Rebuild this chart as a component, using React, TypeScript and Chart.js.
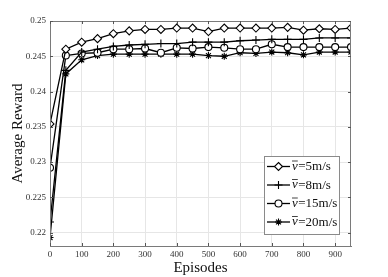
import React, { useEffect, useRef } from "react";
import { Chart, registerables } from "chart.js";

Chart.register(...registerables);

const episodes = [0, 50, 100, 150, 200, 250, 300, 350, 400, 450, 500, 550, 600, 650, 700, 750, 800, 850, 900, 950];
const v5 = [0.2354, 0.2460, 0.2470, 0.2475, 0.2482, 0.2486, 0.2488, 0.2488, 0.2490, 0.2490, 0.2485, 0.2490, 0.2490, 0.2490, 0.2490, 0.2491, 0.2487, 0.2489, 0.2488, 0.2490];
const v8 = [0.2215, 0.2430, 0.2456, 0.2460, 0.2464, 0.2466, 0.2467, 0.2468, 0.2468, 0.2470, 0.2470, 0.2470, 0.2472, 0.2473, 0.2474, 0.2474, 0.2474, 0.2476, 0.2476, 0.2476];
const v15 = [0.2292, 0.2451, 0.2454, 0.2455, 0.2460, 0.2460, 0.2461, 0.2455, 0.2462, 0.2461, 0.2463, 0.2462, 0.2460, 0.2460, 0.2467, 0.2463, 0.2463, 0.2463, 0.2463, 0.2463];
const v20 = [0.2193, 0.2425, 0.2445, 0.2451, 0.2453, 0.2453, 0.2453, 0.2453, 0.2453, 0.2453, 0.2451, 0.2450, 0.2455, 0.2454, 0.2456, 0.2455, 0.2452, 0.2456, 0.2456, 0.2456];
const seriesNames = ["5m/s", "8m/s", "15m/s", "20m/s"];
const xTicks = [0, 100, 200, 300, 400, 500, 600, 700, 800, 900];
const yTicks = [0.22, 0.225, 0.23, 0.235, 0.24, 0.245, 0.25];
const xTitle = "Episodes";
const yTitle = "Average Reward";

const SERIF = "'Liberation Serif', 'Times New Roman', serif";

function drawMarker(ctx: CanvasRenderingContext2D, style: string, r: number, fill: string, x: number, y: number) {
  ctx.save();
  ctx.strokeStyle = "#000";
  ctx.fillStyle = fill;
  ctx.lineWidth = 1.1;
  ctx.beginPath();
  if (style === "rectRot") {
    ctx.moveTo(x, y - r);
    ctx.lineTo(x + r, y);
    ctx.lineTo(x, y + r);
    ctx.lineTo(x - r, y);
    ctx.closePath();
    ctx.fill();
    ctx.stroke();
  } else if (style === "circle") {
    ctx.arc(x, y, r, 0, Math.PI * 2);
    ctx.fill();
    ctx.stroke();
  } else if (style === "cross") {
    ctx.moveTo(x - r, y);
    ctx.lineTo(x + r, y);
    ctx.moveTo(x, y - r);
    ctx.lineTo(x, y + r);
    ctx.stroke();
  } else {
    for (let k = 0; k < 4; k++) {
      const ang = (k * Math.PI) / 4;
      ctx.moveTo(x - r * Math.cos(ang), y - r * Math.sin(ang));
      ctx.lineTo(x + r * Math.cos(ang), y + r * Math.sin(ang));
    }
    ctx.stroke();
  }
  ctx.restore();
}

const decorPlugin = {
  id: "decor",
  afterDraw(chart: any) {
    const ctx = chart.ctx;
    const a = chart.chartArea;
    const xs = chart.scales.x;
    const ys = chart.scales.y;
    ctx.save();
    // box
    ctx.strokeStyle = "#7a7a7a";
    ctx.lineWidth = 1;
    ctx.strokeRect(a.left + 0.5, a.top + 0.5, a.right - a.left - 1, a.bottom - a.top);
    // inward ticks
    ctx.strokeStyle = "#555";
    ctx.beginPath();
    for (const t of xTicks) {
      const px = Math.round(xs.getPixelForValue(t)) + 0.5;
      ctx.moveTo(px, a.bottom);
      ctx.lineTo(px, a.bottom - 3);
      ctx.moveTo(px, a.top);
      ctx.lineTo(px, a.top + 3);
    }
    for (const t of yTicks) {
      const py = Math.round(ys.getPixelForValue(t)) + 0.5;
      ctx.moveTo(a.left, py);
      ctx.lineTo(a.left + 3, py);
      ctx.moveTo(a.right, py);
      ctx.lineTo(a.right - 3, py);
    }
    ctx.stroke();

    // x tick labels
    ctx.fillStyle = "#333";
    ctx.font = `9px ${SERIF}`;
    ctx.textAlign = "center";
    ctx.textBaseline = "middle";
    for (const t of xTicks) {
      ctx.fillText(String(t), xs.getPixelForValue(t), a.bottom + 8.5);
    }

    // axis titles
    ctx.fillStyle = "#111";
    ctx.font = `15px ${SERIF}`;
    ctx.textAlign = "center";
    ctx.textBaseline = "middle";
    ctx.fillText(xTitle, (a.left + a.right) / 2, 268);
    ctx.save();
    ctx.translate(18, (a.top + a.bottom) / 2);
    ctx.rotate(-Math.PI / 2);
    ctx.fillText(yTitle, 0, 0);
    ctx.restore();

    // legend
    const bx = 264, by = 156, bw = 75, bh = 78;
    ctx.fillStyle = "#fff";
    ctx.fillRect(bx, by, bw, bh);
    ctx.strokeStyle = "#8a8a8a";
    ctx.lineWidth = 1;
    ctx.strokeRect(bx + 0.5, by + 0.5, bw, bh);
    const rows = [166.5, 185, 203.5, 222];
    chart.data.datasets.forEach((ds: any, i: number) => {
      const y = rows[i];
      ctx.strokeStyle = "#000";
      ctx.lineWidth = 1.3;
      ctx.beginPath();
      ctx.moveTo(267, y);
      ctx.lineTo(290, y);
      ctx.stroke();
      drawMarker(ctx, ds.pointStyle, ds.pointRadius, ds.pointBackgroundColor, 278.5, y);
      ctx.fillStyle = "#111";
      ctx.textAlign = "left";
      ctx.textBaseline = "middle";
      ctx.font = `italic 13px ${SERIF}`;
      const vx = 292;
      ctx.fillText("v", vx, y);
      const vw = ctx.measureText("v").width;
      ctx.strokeStyle = "#111";
      ctx.lineWidth = 0.8;
      ctx.beginPath();
      ctx.moveTo(vx, y - 5.5);
      ctx.lineTo(vx + vw, y - 5.5);
      ctx.stroke();
      ctx.font = `13px ${SERIF}`;
      ctx.fillText("=" + seriesNames[i], vx + vw + 0.5, y + 0.5);
    });
    ctx.restore();
  },
};

export default function App() {
  const ref = useRef<HTMLCanvasElement | null>(null);
  useEffect(() => {
    if (!ref.current) return;
    const mk = (vals: number[], style: string, r: number, fill: string, label: string) => ({
      label,
      data: episodes.map((e, i) => ({ x: e, y: vals[i] })),
      borderColor: "#000",
      borderWidth: 1.3,
      pointStyle: style,
      pointRadius: r,
      pointBorderWidth: 1.1,
      pointBorderColor: "#000",
      pointBackgroundColor: fill,
      backgroundColor: fill,
      tension: 0,
      fill: false,
    });
    const chart = new Chart(ref.current, {
      type: "line",
      data: {
        datasets: [
          mk(v5, "rectRot", 4, "#fff", seriesNames[0]),
          mk(v8, "cross", 4, "#fff", seriesNames[1]),
          mk(v15, "circle", 3.5, "#fff", seriesNames[2]),
          mk(v20, "star", 3.5, "#000", seriesNames[3]),
        ] as any,
      },
      options: {
        animation: false,
        responsive: false,
        devicePixelRatio: 1,
        layout: { padding: { top: 21, right: 37, left: 0, bottom: 0 } },
        plugins: { legend: { display: false }, tooltip: { enabled: false } },
        scales: {
          x: {
            type: "linear",
            min: 0,
            max: 950,
            afterBuildTicks: (s: any) => {
              s.ticks = xTicks.map((v) => ({ value: v }));
            },
            afterFit: (s: any) => {
              s.height = 31;
            },
            grid: { color: "#e6e6e6", drawTicks: false },
            border: { color: "#7a7a7a" },
            ticks: { display: false },
          },
          y: {
            type: "linear",
            min: 0.2181,
            max: 0.25,
            afterBuildTicks: (s: any) => {
              s.ticks = yTicks.map((v) => ({ value: v }));
            },
            afterFit: (s: any) => {
              s.width = 50;
            },
            grid: { color: "#e6e6e6", drawTicks: false },
            border: { color: "#7a7a7a" },
            ticks: {
              color: "#333",
              font: { family: SERIF, size: 9 },
              padding: 4,
              callback: (v: any) => String(Number(v)),
            },
          },
        },
      },
      plugins: [decorPlugin],
    });
    return () => chart.destroy();
  }, []);
  return (
    <div style={{ position: "fixed", left: 0, top: 0, width: 388, height: 277, background: "#fff" }}>
      <canvas ref={ref} width={388} height={277} style={{ display: "block" }} />
    </div>
  );
}
